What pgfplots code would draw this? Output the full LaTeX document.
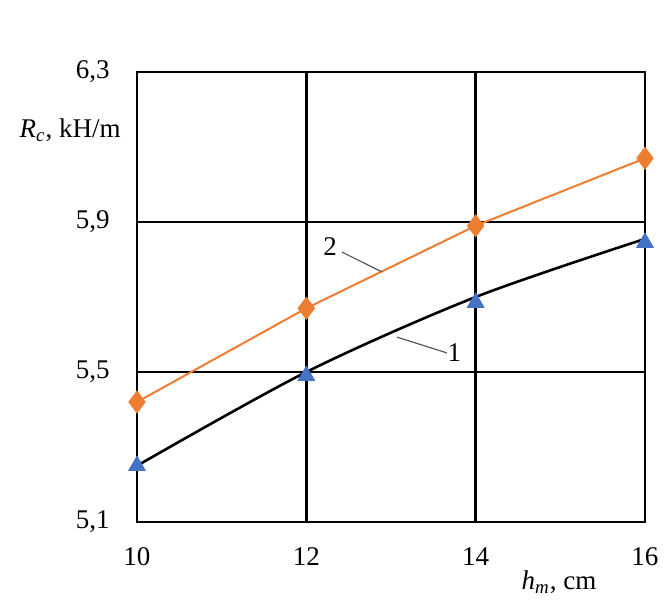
\documentclass[border=0pt]{standalone}
\usepackage{pgfplots}
\pgfplotsset{compat=1.18}
\usepackage{fontspec}
\setmainfont{Liberation Serif}
\definecolor{cblue}{HTML}{4472C4}
\definecolor{corange}{HTML}{ED7D31}
\begin{document}
\fontsize{13.5}{16}\selectfont
\begin{tikzpicture}
\begin{axis}[
  scale only axis, width=254pt, height=225pt,
  at={(0,0)}, anchor=south west,
  xmin=10, xmax=16, ymin=5.1, ymax=6.3,
  xtick={10,12,14,16}, ytick={5.1,5.5,5.9,6.3},
  yticklabels={5{,}1,5{,}5,5{,}9,6{,}3},
  /pgf/number format/assume math mode=true,
  grid=major, major grid style={black, line width=1.2pt},
  axis line style={black, line width=1.4pt},
  tick style={draw=none},
  yticklabel style={xshift=-9pt},
  xticklabel style={yshift=-8pt},
  clip=false,
]
\addplot[black, line width=1.3pt, smooth] coordinates {(10,5.25) (12,5.50) (14,5.70) (16,5.855)};
\addplot[only marks, mark=triangle*, mark size=4.8pt, color=cblue] coordinates {(10,5.25) (12,5.49) (14,5.685) (16,5.845)};
\addplot[corange, line width=1pt, mark=diamond*, mark size=5pt, mark options={fill=corange}] coordinates {(10,5.42) (12,5.67) (14,5.89) (16,6.07)};
\draw[gray!70!black, line width=0.6pt] (axis cs:12.42,5.82) -- (axis cs:12.89,5.767);
\node at (axis cs:12.28,5.835) {2};
\draw[gray!70!black, line width=0.6pt] (axis cs:13.66,5.551) -- (axis cs:13.07,5.593);
\node at (axis cs:13.75,5.553) {1};
\end{axis}
\node[anchor=east] at (-3.5pt,196pt) {\textit{R}\textsubscript{\textit{c}}, kH/m};
\node at (211pt,-30pt) {\textit{h}\textsubscript{\textit{m}}, cm};
\path (-68.5pt,-37.5pt) rectangle (266pt,261pt);
\end{tikzpicture}
\end{document}
